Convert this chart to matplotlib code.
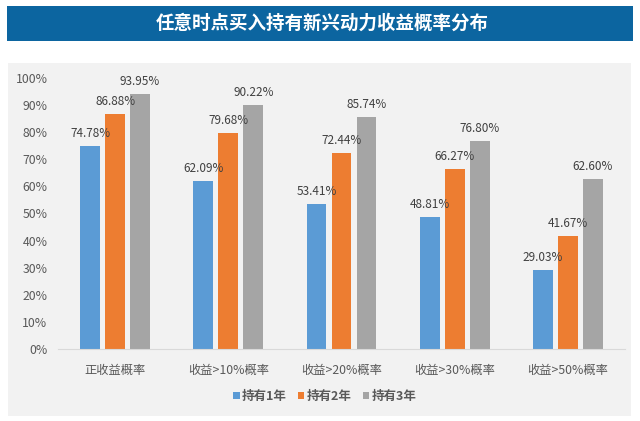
import numpy as np
import matplotlib
matplotlib.use("Agg")
import matplotlib.pyplot as plt
from matplotlib.patches import Rectangle

plt.rcParams['font.family'] = ['Noto Sans CJK SC', 'DejaVu Sans']

# data
categories = ['正收益概率', '收益>10%概率', '收益>20%概率', '收益>30%概率', '收益>50%概率']
series_names = ['持有1年', '持有2年', '持有3年']
hold_1y = [74.78, 62.09, 53.41, 48.81, 29.03]
hold_2y = [86.88, 79.68, 72.44, 66.27, 41.67]
hold_3y = [93.95, 90.22, 85.74, 76.80, 62.60]
y_ticks = [0, 10, 20, 30, 40, 50, 60, 70, 80, 90, 100]

colors = ['#5b9bd5', '#ed7d31', '#a5a5a5']
W, H = 640, 421

fig = plt.figure(figsize=(W / 100, H / 100), dpi=100)
fig.patch.set_facecolor('white')

# gray panel and title banner (pixel coords from top-left)
def px_rect(x0, y0, x1, y1, color):
    fig.patches.append(Rectangle((x0 / W, 1 - y1 / H), (x1 - x0) / W, (y1 - y0) / H,
                                 transform=fig.transFigure, facecolor=color,
                                 edgecolor='none', zorder=-5))

px_rect(8, 63, 631, 416, '#f2f2f2')
px_rect(7, 6, 633, 41, '#0c65a0')
fig.text(322 / W, 1 - 23.5 / H, '任意时点买入持有新兴动力收益概率分布', color='white',
         fontsize=13.3, fontweight='bold', ha='center', va='center')

ax = fig.add_axes([58.5 / W, 1 - 349 / H, 566 / W, 271 / H])
ax.set_zorder(2)
ax.set_facecolor('none')

x = np.arange(len(categories))
bw = 0.175
step = 0.221
for i, (vals, c) in enumerate(zip([hold_1y, hold_2y, hold_3y], colors)):
    xs = x + (i - 1) * step
    ax.bar(xs, vals, width=bw, color=c, label=series_names[i], zorder=2)
    for xi, v in zip(xs, vals):
        ax.text(xi, v + 2.2, f'{v:.2f}%', ha='center', va='bottom',
                fontsize=8.5, color='#404040')

ax.set_xlim(-0.5, len(categories) - 0.5)
ax.set_ylim(0, 100)
ax.set_yticks(y_ticks)
ax.set_yticklabels([f'{t}%' for t in y_ticks])
ax.set_xticks(x)
ax.set_xticklabels(categories)
ax.tick_params(axis='both', length=0, labelsize=8.8, labelcolor='#595959')
ax.tick_params(axis='y', pad=8)
ax.tick_params(axis='x', pad=11)
for s in ['top', 'right', 'left']:
    ax.spines[s].set_visible(False)
ax.spines['bottom'].set_color('#d9d9d9')

leg = ax.legend(loc='center', bbox_to_anchor=((325 - 58.5) / 566, -0.175), ncol=3,
                frameon=False, handlelength=0.5, handleheight=0.5, handletextpad=0.2,
                columnspacing=0.9, prop={'size': 9, 'weight': 'bold'})
for t in leg.get_texts():
    t.set_color('#595959')

fig.savefig('out.png', dpi=100)
